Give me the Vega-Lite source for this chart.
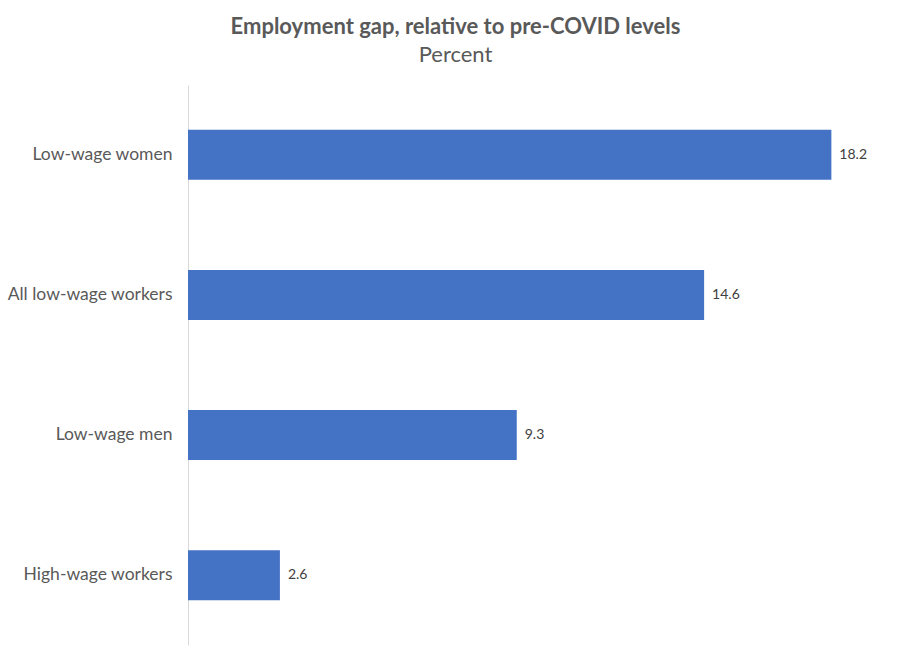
{
  "$schema": "https://vega.github.io/schema/vega-lite/v6.json",
  "width": 707,
  "height": 560,
  "autosize": "none",
  "padding": {"left": 188, "top": 85, "right": 14, "bottom": 15},
  "background": "white",
  "title": {
    "text": "Employment gap, relative to pre-COVID levels",
    "subtitle": "Percent",
    "anchor": "middle",
    "dx": -86,
    "offset": 18,
    "font": "Lato",
    "fontSize": 22,
    "fontWeight": "bold",
    "color": "#595959",
    "subtitleFont": "Lato",
    "subtitleFontSize": 22,
    "subtitleColor": "#595959",
    "subtitlePadding": 6
  },
  "data": {
    "values": [
      {"group": "Low-wage women", "gap": 18.2},
      {"group": "All low-wage workers", "gap": 14.6},
      {"group": "Low-wage men", "gap": 9.3},
      {"group": "High-wage workers", "gap": 2.6}
    ]
  },
  "encoding": {
    "y": {
      "field": "group",
      "type": "nominal",
      "sort": null,
      "title": null,
      "scale": {"paddingInner": 0.643, "paddingOuter": 0.32},
      "axis": {
        "domainColor": "#d9d9d9",
        "domainWidth": 1,
        "ticks": false,
        "labelPadding": 16,
        "labelFont": "Lato",
        "labelFontSize": 17.5,
        "labelColor": "#595959"
      }
    },
    "x": {
      "field": "gap",
      "type": "quantitative",
      "scale": {"domain": [0, 20], "nice": false},
      "axis": null
    }
  },
  "layer": [
    {"mark": {"type": "bar", "color": "#4472C4"}},
    {
      "mark": {
        "type": "text",
        "align": "left",
        "dx": 8,
        "font": "Lato",
        "fontSize": 14,
        "color": "#404040"
      },
      "encoding": {"text": {"field": "gap", "type": "quantitative", "format": ".1f"}}
    }
  ],
  "config": {"view": {"stroke": null}}
}
